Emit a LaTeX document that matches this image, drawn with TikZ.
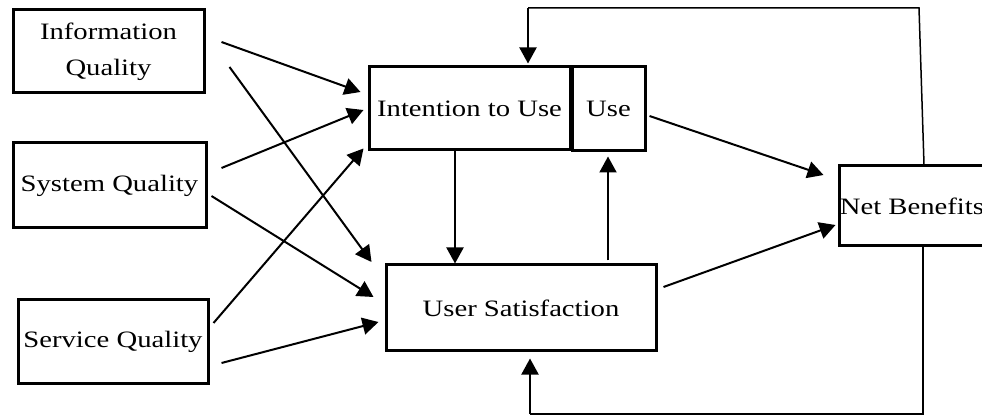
\documentclass[tikz,border=0pt]{standalone}
\usepackage{fontspec}
\setmainfont[FakeStretch=1.22]{Liberation Serif}
\usetikzlibrary{arrows.meta,calc}
\begin{document}
\begin{tikzpicture}[x=1pt,y=-1pt,
  box/.style={draw,line width=3pt,inner sep=0pt,align=center,
    font=\fontsize{23.5}{36}\selectfont},
  arr/.style={line width=2pt,-{Triangle[length=16pt,width=17pt]}},
  fb/.style={line width=1.5pt}]
\useasboundingbox (0,0) rectangle (982,419);
\clip (0,0) rectangle (982,419);
% boxes
\node[box,minimum width=191,minimum height=83] (iq) at (108.5,51.5) {Information\\Quality};
\node[box,minimum width=193,minimum height=85] (sq) at (109.5,185.5) {System Quality};
\node[box,minimum width=190,minimum height=83] (svq) at (113,341.5) {Service Quality};
\node[box,minimum width=201,minimum height=83] (int) at (469.5,108.5) {Intention to Use};
\node[box,minimum width=73,minimum height=84] (use) at (608.5,109) {Use};
\node[box,minimum width=270,minimum height=86] (us) at (521,308) {User Satisfaction};
\node[box,minimum width=162,minimum height=80] (nb) at (920,206) {\hspace*{-16pt}Net Benefits};
% left arrows
\draw[arr] ($(iq.east)+(16,-9.5)$) -- ($(int.west)+(-7,-16.5)$);
\draw[arr] ($(iq.east)+(24,15.5)$) -- ($(us.west)+(-13,-46)$);
\draw[arr] ($(sq.east)+(14,-17.5)$) -- ($(int.west)+(-4,1.5)$);
\draw[arr] ($(sq.east)+(4,10.5)$) -- ($(us.west)+(-11,-11)$);
\draw[arr] ($(svq.east)+(4,-18.5)$) -- ($(int.south west)+(-4,-3)$);
\draw[arr] ($(svq.east)+(12,21.5)$) -- ($(us.west)+(-6,14)$);
% middle arrows
\coordinate (a1) at ($(int.south)+(-14.5,0)$);
\draw[arr] (a1) -- (a1 |- us.north);
\coordinate (a2) at ($(us.north)+(87,-3)$);
\draw[arr] (a2) -- ($(a2 |- use.south)+(0,4)$);
\draw[arr] ($(use.east)+(3,7)$) -- ($(nb.west)+(-14,-31)$);
\draw[arr] ($(us.east)+(6,-21)$) -- ($(nb.west)+(-2,19)$);
% feedback loops
\coordinate (ft) at (919,8);
\coordinate (fi) at ($(int.north)+(58.5,0)$);
\draw[fb] ($(nb.north)+(4,0)$) -- (ft) -- (fi |- ft);
\draw[arr] (fi |- ft) -- ($(fi)+(0,-2)$);
\coordinate (fbm) at (923,414);
\coordinate (fu) at ($(us.south)+(9,0)$);
\draw[fb] ($(nb.south)+(3,0)$) -- (fbm) -- (fu |- fbm);
\draw[arr] (fu |- fbm) -- ($(fu)+(0,6)$);
\end{tikzpicture}
\end{document}
